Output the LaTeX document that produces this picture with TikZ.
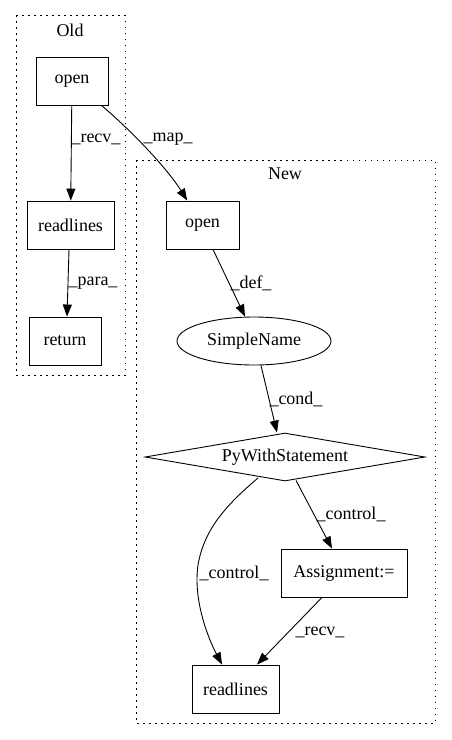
\documentclass[tikz,border=0pt]{standalone}
\usepackage{fontspec}
\setmainfont{Liberation Serif}
\usetikzlibrary{shapes.geometric,arrows.meta}
\begin{document}
\begin{tikzpicture}[x=1pt,y=-1pt,
  every node/.style={font=\fontsize{18pt}{20pt}\selectfont},
  box/.style={draw,line width=0.9pt,rectangle,minimum height=48pt,inner sep=0pt},
  cluster/.style={draw,line width=1pt,dash pattern=on 1.5pt off 4.5pt},
  lbl/.style={inner sep=0pt},
  edge/.style={line width=0.9pt,-{Triangle[length=12pt,width=9pt]}}]
\useasboundingbox (0,0) rectangle (451,740);
% clusters
\draw[cluster] (16,15) rectangle (125,375);
\node[lbl] (oldlbl) at (70,30) {Old};
\draw[cluster] (136,160) rectangle (435,723);
\node[lbl] (newlbl) at (285,174) {New};
% nodes
\node[box,minimum width=72pt] (open1) at (72,81) {open};
\node[box,minimum width=87pt] (rl1) at (70.5,225) {readlines};
\node[box,minimum width=72pt] (ret) at (65,341) {return};
\node[box,minimum width=73pt] (open2) at (202.5,225) {open};
\node[draw,line width=0.9pt,ellipse,minimum width=154pt,minimum height=48pt,inner sep=0pt] (sn) at (254,341) {SimpleName};
\node[draw,line width=0.9pt,diamond,aspect=5.8,minimum width=280pt,minimum height=48pt,inner sep=0pt] (pws) at (285,457) {PyWithStatement};
\node[box,minimum width=126pt] (asg) at (344,573) {Assignment:=};
\node[box,minimum width=87pt] (rl2) at (235.5,689) {readlines};
% edges
\draw[edge] (open1) -- (rl1);
\draw[edge] (rl1.south -| 69,0) -- (ret.north -| 67,0);
\draw[edge] (open1) .. controls (125,125) and (165,165) .. (open2);
\draw[edge] (open2.south -| 213,0) -- (sn.north -| 245,0);
\draw[edge] (sn.south -| 261,0) -- (pws.north -| 277,0);
\draw[edge] (pws.south -| 296,0) ++(0,-1) -- (asg.north -| 332,0);
\draw[edge] (258,478) .. controls (225,506) and (204,530) .. (198,565) .. controls (193,600) and (208,638) .. (rl2.north -| 222,0);
\draw[edge] (asg.south -| 322,0) -- (rl2.north -| 257,0);
% labels
\node[lbl] (l1) at (96,139) {\_recv\_};
\node[lbl] (l2) at (168,139) {\_map\_};
\node[lbl] (l3) at (93,283) {\_para\_};
\node[lbl] (l4) at (251,283) {\_def\_};
\node[lbl] (l5) at (296,399) {\_cond\_};
\node[lbl] (l6) at (351,514) {\_control\_};
\node[lbl] (l7) at (234,573) {\_control\_};
\node[lbl] (l8) at (320,632) {\_recv\_};
\end{tikzpicture}
\end{document}
